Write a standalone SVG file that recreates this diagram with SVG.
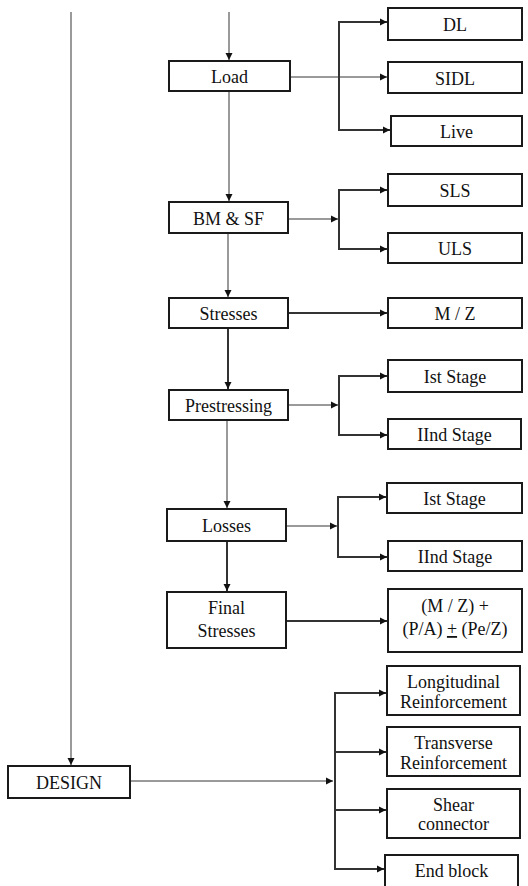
<svg xmlns="http://www.w3.org/2000/svg" width="528" height="886" viewBox="0 0 528 886">
<style>
.box{fill:#fff;stroke:#1a1a1a;stroke-width:2}
.t{font-size:18px;fill:#111;text-anchor:middle}
.trunk{stroke:#9a9a9a;stroke-width:2;fill:none}
.br{stroke:#333;stroke-width:2;fill:none}
</style>
<defs>
<marker id="ah" markerUnits="userSpaceOnUse" markerWidth="8" markerHeight="8" refX="7" refY="4" orient="auto">
<path d="M0,0.5 L7,4 L0,7.5 z" fill="#111"/>
</marker>
</defs>
<rect width="528" height="886" fill="#fff"/>
<g id="connectors">
<line class="trunk" x1="71" y1="12" x2="71" y2="765" marker-end="url(#ah)"/>
<line class="trunk" x1="229" y1="12" x2="229" y2="60" marker-end="url(#ah)"/>
<line class="trunk" x1="229" y1="91" x2="229" y2="201" marker-end="url(#ah)"/>
<line class="trunk" x1="228" y1="233" x2="228" y2="297" marker-end="url(#ah)"/>
<line class="br" x1="228" y1="328" x2="228" y2="389" marker-end="url(#ah)"/>
<line class="trunk" x1="227" y1="420" x2="227" y2="508" marker-end="url(#ah)"/>
<line class="br" x1="227" y1="541" x2="227" y2="591" marker-end="url(#ah)"/>
<line class="trunk" x1="290" y1="77" x2="387" y2="77" marker-end="url(#ah)"/>
<polyline class="br" points="387,22 339,22 339,130 390,130" marker-end="url(#ah)"/>
<line class="br" x1="339" y1="22" x2="387" y2="22" marker-end="url(#ah)"/>
<line class="trunk" x1="288" y1="219" x2="338" y2="219" marker-end="url(#ah)"/>
<polyline class="br" points="387,190 339,190 339,249 387,249" marker-end="url(#ah)"/>
<line class="br" x1="339" y1="190" x2="387" y2="190" marker-end="url(#ah)"/>
<line class="br" x1="288" y1="313" x2="387" y2="313" marker-end="url(#ah)"/>
<line class="trunk" x1="288" y1="405" x2="338" y2="405" marker-end="url(#ah)"/>
<polyline class="br" points="387,376 339,376 339,435 387,435" marker-end="url(#ah)"/>
<line class="br" x1="339" y1="376" x2="387" y2="376" marker-end="url(#ah)"/>
<line class="trunk" x1="286" y1="526" x2="337" y2="526" marker-end="url(#ah)"/>
<polyline class="br" points="386,497 338,497 338,557 387,557" marker-end="url(#ah)"/>
<line class="br" x1="338" y1="497" x2="386" y2="497" marker-end="url(#ah)"/>
<line class="br" x1="286" y1="621" x2="387" y2="621" marker-end="url(#ah)"/>
<line class="trunk" x1="130" y1="781" x2="333" y2="781" marker-end="url(#ah)"/>
<polyline class="br" points="386,693 335,693 335,869 384,869" marker-end="url(#ah)"/>
<line class="br" x1="335" y1="693" x2="386" y2="693" marker-end="url(#ah)"/>
<line class="br" x1="335" y1="752" x2="386" y2="752" marker-end="url(#ah)"/>
<line class="br" x1="335" y1="810" x2="386" y2="810" marker-end="url(#ah)"/>
</g>
<g font-family="'Liberation Serif', 'DejaVu Serif', 'Times New Roman', serif">
<g id="load"><rect class="box" x="169" y="61" width="121" height="30"/><text class="t" x="229.5" y="83">Load</text></g>
<g id="dl"><rect class="box" x="388" y="8" width="134" height="32"/><text class="t" x="455" y="31">DL</text></g>
<g id="sidl"><rect class="box" x="388" y="62" width="134" height="31"/><text class="t" x="455" y="85">SIDL</text></g>
<g id="live"><rect class="box" x="391" y="116" width="131" height="30"/><text class="t" x="456.5" y="138">Live</text></g>
<g id="bmsf"><rect class="box" x="169" y="202" width="119" height="31"/><text class="t" x="228.5" y="225">BM &amp; SF</text></g>
<g id="sls"><rect class="box" x="388" y="174" width="134" height="32"/><text class="t" x="455" y="197">SLS</text></g>
<g id="uls"><rect class="box" x="388" y="233" width="134" height="30"/><text class="t" x="455" y="255">ULS</text></g>
<g id="stresses"><rect class="box" x="169" y="298" width="119" height="30"/><text class="t" x="228.5" y="320">Stresses</text></g>
<g id="mz"><rect class="box" x="388" y="298" width="134" height="30"/><text class="t" x="455" y="320">M / Z</text></g>
<g id="prestressing"><rect class="box" x="169" y="390" width="119" height="30"/><text class="t" x="228.5" y="412">Prestressing</text></g>
<g id="p-stage1"><rect class="box" x="388" y="360" width="134" height="32"/><text class="t" x="455" y="383">Ist Stage</text></g>
<g id="p-stage2"><rect class="box" x="388" y="419" width="133" height="30"/><text class="t" x="454.5" y="441">IInd Stage</text></g>
<g id="losses"><rect class="box" x="167" y="509" width="119" height="32"/><text class="t" x="226.5" y="532">Losses</text></g>
<g id="l-stage1"><rect class="box" x="387" y="483" width="135" height="30"/><text class="t" x="454.5" y="505">Ist Stage</text></g>
<g id="l-stage2"><rect class="box" x="388" y="541" width="134" height="30"/><text class="t" x="455" y="563">IInd Stage</text></g>
<g id="final"><rect class="box" x="167" y="592" width="119" height="56"/><text class="t" x="226.5" y="614">Final</text><text class="t" x="226.5" y="637">Stresses</text></g>
<g id="formula"><rect class="box" x="388" y="589" width="134" height="63"/><text class="t" x="455" y="612">(M / Z) +</text><text class="t" x="455" y="635">(P/A) <tspan text-decoration="underline">+</tspan> (Pe/Z)</text></g>
<g id="longitudinal"><rect class="box" x="387" y="666" width="133" height="49"/><text class="t" x="453.5" y="688">Longitudinal</text><text class="t" x="453.5" y="708">Reinforcement</text></g>
<g id="transverse"><rect class="box" x="387" y="727" width="133" height="49"/><text class="t" x="453.5" y="749">Transverse</text><text class="t" x="453.5" y="769">Reinforcement</text></g>
<g id="shear"><rect class="box" x="387" y="789" width="133" height="49"/><text class="t" x="453.5" y="811">Shear</text><text class="t" x="453.5" y="830">connector</text></g>
<g id="endblock"><rect class="box" x="385" y="855" width="133" height="40"/><text class="t" x="451.5" y="877">End block</text></g>
<g id="design"><rect class="box" x="8" y="766" width="122" height="32"/><text class="t" x="69" y="789">DESIGN</text></g>
</g>
</svg>
